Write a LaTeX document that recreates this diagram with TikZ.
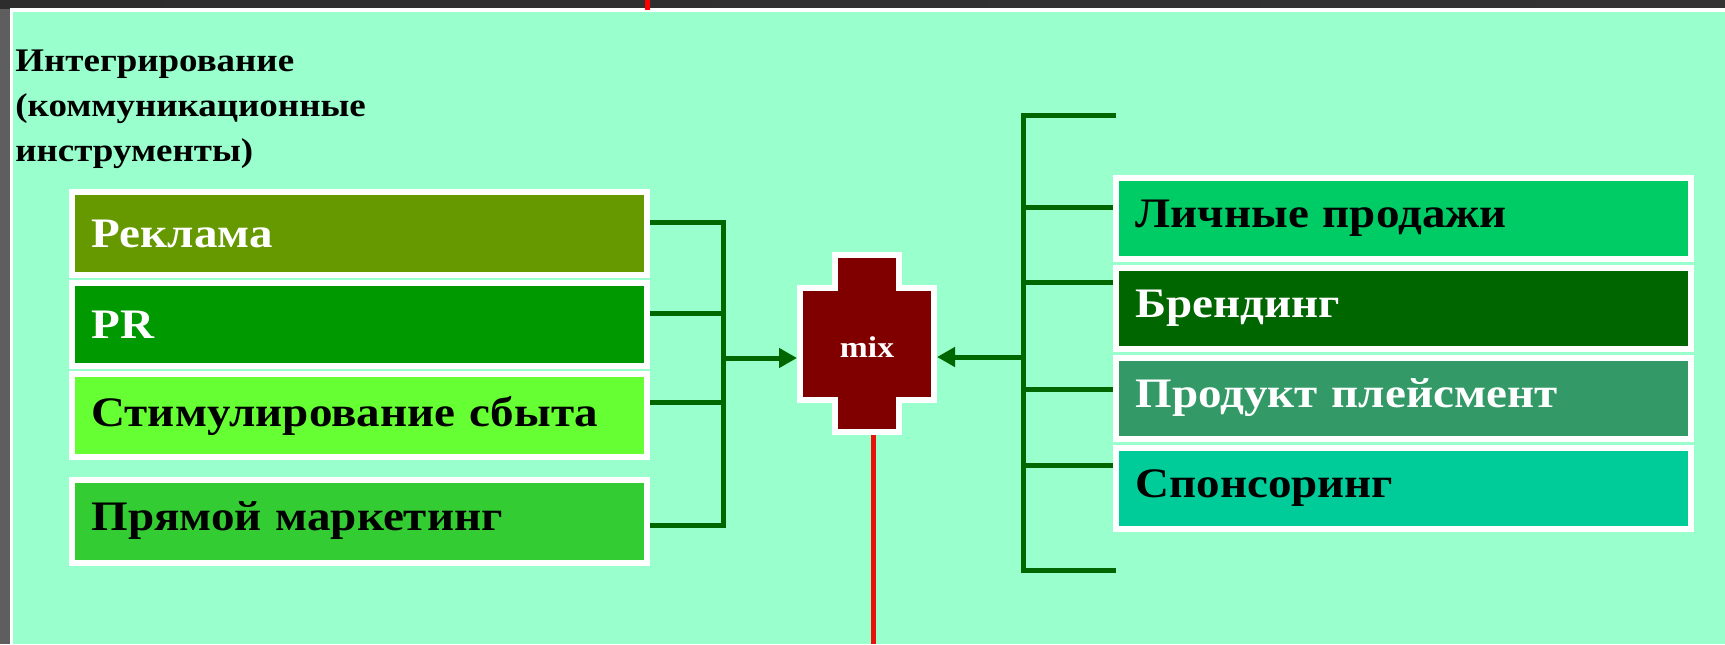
\documentclass[tikz,border=0pt]{standalone}
\usepackage{fontspec}
\setmainfont{Liberation Serif}[FakeStretch=1.12]
\usetikzlibrary{positioning, arrows.meta, calc}
\definecolor{mint}{HTML}{99FFCC}
\definecolor{framegrey}{HTML}{5E5E5E}
\definecolor{topgrey}{HTML}{404040}
\definecolor{linkgreen}{HTML}{006600}
\definecolor{mixred}{HTML}{800000}
\definecolor{redline}{HTML}{E8120C}
\definecolor{reklama}{HTML}{669900}
\definecolor{prgreen}{HTML}{009900}
\definecolor{stimgreen}{HTML}{66FF33}
\definecolor{directgreen}{HTML}{33CC33}
\definecolor{salesgreen}{HTML}{00CC66}
\definecolor{brandgreen}{HTML}{006600}
\definecolor{placegreen}{HTML}{339966}
\definecolor{sponsgreen}{HTML}{00CC99}

\begin{document}
\begin{tikzpicture}[
  x=0.5pt, y=-0.5pt,
  tool/.style={
    rectangle, draw=white, line width=3pt,
    minimum width=287.5pt, minimum height=41.5pt, text width=268pt,
    inner xsep=9.75pt, inner ysep=0pt, align=left,
    font=\bfseries\fontsize{21}{25}\selectfont
  },
  rtool/.style={tool, minimum height=40.5pt},
  link/.style={draw=linkgreen, line width=2.5pt},
  arrow/.style={link, -{Triangle[length=9pt, width=9.5pt]}},
  redstroke/.style={draw=redline, line width=2.5pt}
]
\useasboundingbox (0,0) rectangle (1725,644);
\fill[framegrey] (0,0) rectangle (1725,644);
\fill[left color=topgrey!110, right color=topgrey!80!black] (0,0) rectangle (1725,8);
\fill[white] (10,8) rectangle (1725,644);
\fill[mint] (13,12) rectangle (1725,644);
\draw[redstroke, draw=red] (647,0) -- (647,10);

\node[anchor=north west, inner sep=0pt, align=left, font=\bfseries\fontsize{16.5}{22.5}\selectfont] (title) at (15,49)
  {Интегрирование\\(коммуникационные\\инструменты)};

\node[tool, fill=reklama, text=white] (l1) at (359.5,233.5) {Реклама};
\node[tool, fill=prgreen, text=white, below=1pt of l1] (l2) {PR};
\node[tool, fill=stimgreen, below=1pt of l2] (l3) {Стимулирование сбыта};
\node[tool, fill=directgreen, below=8.25pt of l3] (l4) {Прямой маркетинг};

\node[rtool, fill=salesgreen] (r1) at (1403.5,218) {Личные продажи};
\node[rtool, fill=brandgreen, text=white, below=1.5pt of r1] (r2) {Брендинг};
\node[rtool, fill=placegreen, text=white, below=1.5pt of r2] (r3) {Продукт плейсмент};
\node[rtool, fill=sponsgreen, below=1.5pt of r3] (r4) {Спонсоринг};

\fill[mixred, draw=white, line width=3pt]
  (835,255) -- (899,255) -- (899,288) -- (934,288) -- (934,400) -- (899,400) --
  (899,432) -- (835,432) -- (835,400) -- (800,400) -- (800,288) -- (835,288) -- cycle;
\node[minimum width=70pt, minimum height=91.5pt, inner sep=0pt, outer sep=0pt, text=white,
  font=\bfseries\fontsize{15}{18}\selectfont] (mix) at (867,343.5) {\raisebox{-7pt}[0pt][0pt]{mix}};

\coordinate (lt) at (723,222);
\coordinate (lb) at (723,525);
\coordinate (lm) at (723,358);
\coordinate (l2s) at (723,313);
\coordinate (l3s) at (723,402);
\draw[link] (lt -| l1.east) -- (lt) -- (lb) -- (lb -| l4.east);
\draw[link] (l2s -| l2.east) -- (l2s);
\draw[link] (l3s -| l3.east) -- (l3s);
\draw[arrow] (lm) -- (lm -| mix.west);

\coordinate (rt) at (1023,115);
\coordinate (rb) at (1023,570);
\coordinate (rm) at (1023,357);
\coordinate (rtend) at (1116,115);
\coordinate (rbend) at (1116,570);
\coordinate (r1s) at (1023,207);
\coordinate (r2s) at (1023,282);
\coordinate (r3s) at (1023,389);
\coordinate (r4s) at (1023,465);
\draw[link] (rtend) -- (rt) -- (rb) -- (rbend);
\draw[link] (r1s) -- (r1s -| r1.west);
\draw[link] (r2s) -- (r2s -| r2.west);
\draw[link] (r3s) -- (r3s -| r3.west);
\draw[link] (r4s) -- (r4s -| r4.west);
\draw[arrow] (rm) -- (rm -| mix.east);

\coordinate (redend) at (873,644);
\draw[redstroke] (redend |- mix.south) -- (redend);
\end{tikzpicture}
\end{document}
